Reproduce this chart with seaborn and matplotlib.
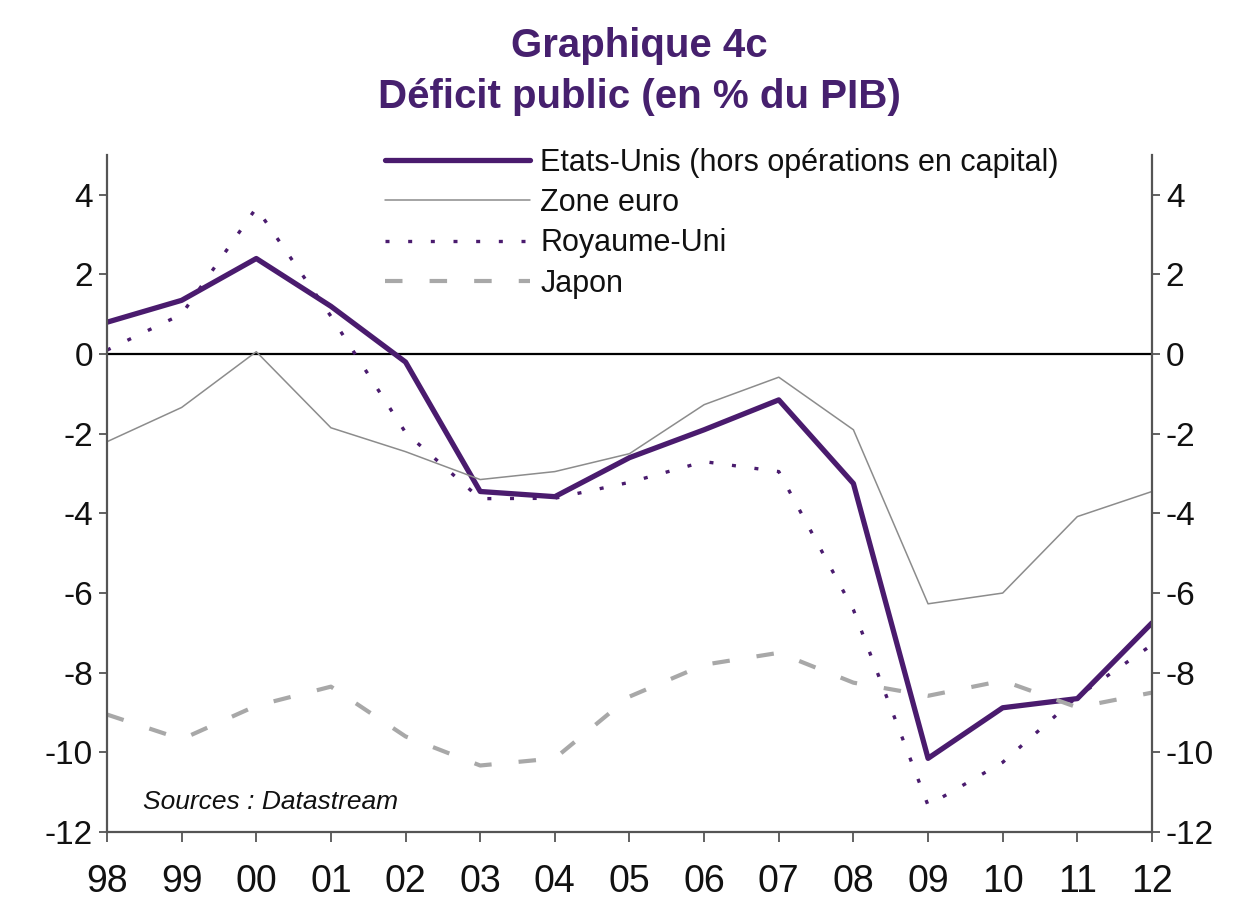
import pandas as pd
import numpy as np
import matplotlib.pyplot as plt
import seaborn as sns

years = ["98", "99", "00", "01", "02", "03", "04", "05", "06", "07", "08", "09", "10", "11", "12"]
etats_unis = [0.8, 1.35, 2.4, 1.2, -0.2, -3.45, -3.58, -2.6, -1.9, -1.15, -3.25, -10.15, -8.88, -8.65, -6.75]
zone_euro = [-2.2, -1.34, 0.06, -1.85, -2.45, -3.15, -2.95, -2.5, -1.27, -0.58, -1.9, -6.27, -6.0, -4.08, -3.45]
royaume_uni = [0.1, 1.0, 3.67, 0.95, -1.97, -3.63, -3.62, -3.22, -2.7, -2.95, -6.42, -11.33, -10.25, -8.6, -7.3]
japon = [-9.05, -9.67, -8.83, -8.35, -9.6, -10.33, -10.15, -8.6, -7.8, -7.5, -8.25, -8.58, -8.2, -8.87, -8.5]

labels = ["Etats-Unis (hors opérations en capital)", "Zone euro", "Royaume-Uni", "Japon"]

purple = "#4a1b6e"
title_color = "#46206e"

df = pd.DataFrame({
    "x": np.arange(len(years)),
    labels[0]: etats_unis,
    labels[1]: zone_euro,
    labels[2]: royaume_uni,
    labels[3]: japon,
})

sns.set_style("white")
plt.rcParams['font.family'] = ['Liberation Sans', 'DejaVu Sans']
plt.rcParams['axes.unicode_minus'] = False

fig = plt.figure(figsize=(12.47, 9.11), dpi=100)
ax = fig.add_axes([0.0858, 0.0867, 0.838, 0.7432])

sns.lineplot(data=df, x="x", y=labels[0], ax=ax, color=purple, linewidth=3.8,
             label=labels[0])
sns.lineplot(data=df, x="x", y=labels[1], ax=ax, color="#8c8c8c", linewidth=1.1,
             label=labels[1])
sns.lineplot(data=df, x="x", y=labels[2], ax=ax, color=purple, linewidth=2.4,
             linestyle=(0, (1.2, 5.6)), label=labels[2])
sns.lineplot(data=df, x="x", y=labels[3], ax=ax, color="#a8a8a8", linewidth=3.0,
             linestyle=(0, (4.2, 6.5)), label=labels[3])

ax.axhline(0, color="black", linewidth=1.6, zorder=1)

ax.set_xlim(0, len(years) - 1)
ax.set_ylim(-12, 5)
ax.set_xticks(np.arange(len(years)))
ax.set_xticklabels(years)
ax.set_yticks(np.arange(-12, 5, 2))
ax.set_xlabel("")
ax.set_ylabel("")

for side in ["left", "right", "bottom"]:
    ax.spines[side].set_visible(True)
    ax.spines[side].set_color("#555555")
    ax.spines[side].set_linewidth(1.6)
ax.spines["top"].set_visible(False)

ax.tick_params(axis="y", left=True, right=True, labelleft=True, labelright=True,
               direction="out", length=6, width=1.3, color="#555555",
               labelsize=24, pad=4, labelcolor="#111111")
ax.tick_params(axis="x", bottom=True, direction="out", length=7, width=1.3,
               color="#555555", labelsize=27, pad=16, labelcolor="#111111")

leg = ax.legend(loc="upper left", bbox_to_anchor=(0.3087, 0.838),
                bbox_transform=fig.transFigure, frameon=False, fontsize=22,
                handlelength=4.75, handletextpad=0.33, labelspacing=0.34,
                borderaxespad=0, borderpad=0)
for t in leg.get_texts():
    t.set_color("#111111")

ax.text(0.034, 0.045, "Sources : Datastream", transform=ax.transAxes,
        fontsize=19, style="italic", ha="left", va="center", color="#111111")

fig.text(0.513, 0.95, "Graphique 4c", ha="center", va="center",
         fontsize=29, fontweight="bold", color=title_color)
fig.text(0.513, 0.893, "Déficit public (en % du PIB)", ha="center", va="center",
         fontsize=29, fontweight="bold", color=title_color)

fig.savefig("out.png", dpi=100)
